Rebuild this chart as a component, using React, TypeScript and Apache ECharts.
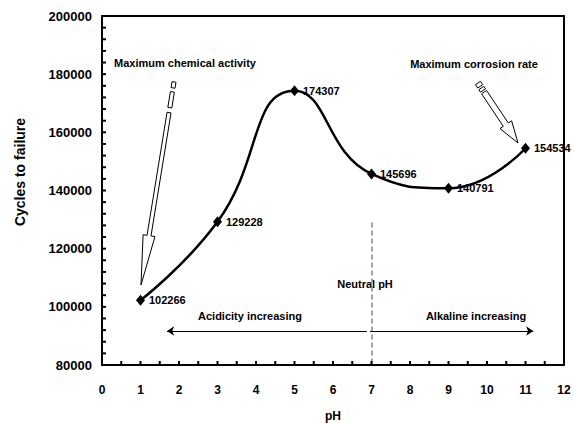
import React, { useEffect, useRef } from "react";
import * as echarts from "echarts";

const phValues = [1, 3, 5, 7, 9, 11];
const cycles = [102266, 129228, 174307, 145696, 140791, 154534];
const xTicks = [0, 12, 1];
const yTicks = [80000, 200000, 20000];
const xMinorStep = 0.5;
const yMinorStep = 4000;
const neutralLine = [[7, 129000], [7, 80000]];
const acidArrow = [[6.88, 91700], [1.69, 91700]];
const alkArrow = [[6.96, 91700], [11.2, 91700]];

const FONT = "'Liberation Sans', Arial, sans-serif";

type P = [number, number];

function arrowPolys(tail: P, tip: P, pieces: P[], hw: number, shaftStart: number, headLen: number, headHW: number) {
  const dx = tip[0] - tail[0];
  const dy = tip[1] - tail[1];
  const L = Math.hypot(dx, dy);
  const ux = dx / L, uy = dy / L;
  const nx = -uy, ny = ux;
  const at = (d: number, w: number): P => [tail[0] + ux * d + nx * w, tail[1] + uy * d + ny * w];
  const polys: P[][] = [];
  pieces.forEach(([a, b]) => {
    polys.push([at(a, hw), at(b, hw), at(b, -hw), at(a, -hw)]);
  });
  const base = L - headLen;
  polys.push([
    at(shaftStart, hw),
    at(base, hw),
    at(base, headHW),
    tip,
    at(base, -headHW),
    at(base, -hw),
    at(shaftStart, -hw),
  ]);
  return polys.map((pts) => ({
    type: "polygon",
    silent: true,
    shape: { points: pts },
    style: { fill: "#fff", stroke: "#000", lineWidth: 1 },
  }));
}

export default function App() {
  const ref = useRef<HTMLDivElement>(null);
  useEffect(() => {
    if (!ref.current) return;
    const chart = echarts.init(ref.current, undefined, { renderer: "svg" });
    const txt = (text: string, x: number, y: number, extra: any = {}) => ({
      type: "text",
      x,
      y,
      silent: true,
      style: {
        text,
        fill: "#000",
        font: `bold 11px ${FONT}`,
        align: "center",
        verticalAlign: "middle",
        ...extra,
      },
    });
    const graphics: any[] = [
      txt("Maximum chemical activity", 185, 63),
      txt("Maximum corrosion rate", 474, 64),
      txt("Neutral pH", 365, 284),
      txt("Acidicity increasing", 250, 316),
      txt("Alkaline increasing", 476, 316),
      {
        type: "text",
        x: 20,
        y: 172,
        rotation: Math.PI / 2,
        silent: true,
        style: {
          text: "Cycles to failure",
          fill: "#000",
          font: `bold 14px ${FONT}`,
          align: "center",
          verticalAlign: "middle",
        },
      },
      ...arrowPolys([174, 82], [141, 285], [[0, 6], [10, 26]], 2, 31, 50, 6),
      ...arrowPolys([478, 83], [518, 143], [[0, 4], [6, 9]], 3, 11, 22, 7),
    ];
    const axisBase = {
      type: "value",
      axisLine: { show: true, onZero: false, lineStyle: { color: "#000", width: 2 } },
      axisTick: { show: false },
      minorTick: { show: false },
      splitLine: { show: false },
      minorSplitLine: { show: false },
    };
    chart.setOption({
      animation: false,
      grid: {
        left: 102,
        right: 10,
        top: 16,
        bottom: 58,
        containLabel: false,
        outerBoundsMode: "none",
        show: false,
      },
      xAxis: [
        {
          ...axisBase,
          min: xTicks[0],
          max: xTicks[1],
          interval: xTicks[2],
          name: "pH",
          nameLocation: "middle",
          nameGap: 45,
          nameTextStyle: { fontFamily: FONT, fontWeight: "bold", fontSize: 12, color: "#000" },
          axisLabel: { show: true, margin: 19, fontFamily: FONT, fontWeight: "bold", fontSize: 12, color: "#000" },
        },
        {
          ...axisBase,
          position: "top",
          min: xTicks[0],
          max: xTicks[1],
          interval: xTicks[2],
          axisLabel: { show: false },
        },
      ],
      yAxis: [
        {
          ...axisBase,
          min: yTicks[0],
          max: yTicks[1],
          interval: yTicks[2],
          axisLabel: {
            show: true,
            margin: 10,
            fontFamily: FONT,
            fontWeight: "bold",
            fontSize: 13,
            color: "#000",
            formatter: (v: number) => String(v),
          },
        },
        {
          ...axisBase,
          position: "right",
          min: yTicks[0],
          max: yTicks[1],
          interval: yTicks[2],
          axisLabel: { show: false },
        },
      ],
      series: [
        {
          type: "line",
          xAxisIndex: 0,
          yAxisIndex: 0,
          data: phValues.map((x, i) => [x, cycles[i]]),
          smooth: 0.5,
          symbol: "diamond",
          symbolSize: [9, 11],
          lineStyle: { color: "#000", width: 2.5 },
          itemStyle: { color: "#000" },
          label: {
            show: true,
            position: "right",
            distance: 4,
            formatter: (p: any) => String(p.value[1]),
            fontFamily: FONT,
            fontWeight: "bold",
            fontSize: 11,
            color: "#000",
          },
          markLine: {
            silent: true,
            symbol: ["none", "none"],
            symbolSize: 8,
            label: { show: false },
            emphasis: { disabled: true },
            data: [
              [
                { coord: neutralLine[0], lineStyle: { color: "#888", type: [5, 3], width: 1.5 } },
                { coord: neutralLine[1] },
              ],
              [
                { coord: acidArrow[0], symbol: "none", lineStyle: { color: "#000", type: "solid", width: 1 } },
                { coord: acidArrow[1], symbol: "arrow", symbolSize: 7 },
              ],
              [
                { coord: alkArrow[0], symbol: "none", lineStyle: { color: "#000", type: "solid", width: 1 } },
                { coord: alkArrow[1], symbol: "arrow", symbolSize: 7 },
              ],
            ],
          },
        },
      ],
    });

    // axis tick marks, placed through the chart's own scales
    const tickLen = 4;
    const ticks: any[] = [];
    const tickStyle = { stroke: "#000", lineWidth: 2 };
    const toPx = (x: number, y: number) =>
      chart.convertToPixel({ seriesIndex: 0 } as any, [x, y]) as unknown as number[];
    for (let v = xTicks[0] + xMinorStep; v < xTicks[1] - 1e-9; v += xMinorStep) {
      const p = toPx(v, yTicks[0]);
      if (!p || !isFinite(p[0]) || !isFinite(p[1])) continue;
      ticks.push({
        type: "line",
        silent: true,
        z: 10,
        shape: { x1: p[0], y1: p[1], x2: p[0], y2: p[1] - tickLen },
        style: tickStyle,
      });
    }
    for (let v = yTicks[0] + yMinorStep; v < yTicks[1] - 1e-9; v += yMinorStep) {
      const p = toPx(xTicks[0], v);
      if (!p || !isFinite(p[0]) || !isFinite(p[1])) continue;
      ticks.push({
        type: "line",
        silent: true,
        z: 10,
        shape: { x1: p[0], y1: p[1], x2: p[0] + tickLen, y2: p[1] },
        style: tickStyle,
      });
    }
    chart.setOption({ graphic: [...graphics, ...ticks] });
    return () => chart.dispose();
  }, []);
  return (
    <div
      ref={ref}
      style={{ position: "fixed", left: 0, top: 0, width: 574, height: 423, background: "#fff" }}
    />
  );
}
